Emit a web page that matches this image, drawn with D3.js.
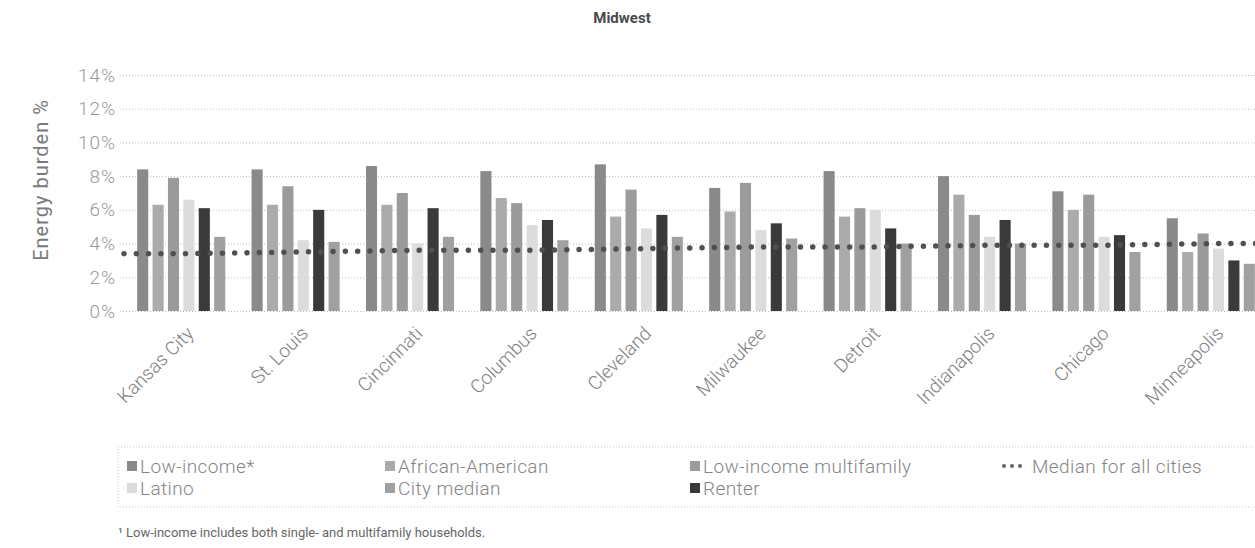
<!DOCTYPE html>
<html>
<head>
<meta charset="utf-8">
<script src="https://cdn.jsdelivr.net/npm/d3@7"></script>
<style>
  html, body { margin: 0; padding: 0; background: #fff; }
  svg { display: block; }
  text { font-family: Roboto, "Liberation Sans", sans-serif; }
</style>
</head>
<body>
<svg id="chart" width="1255" height="548"></svg>
<script>
// ---- data ----
const cities = ["Kansas City", "St. Louis", "Cincinnati", "Columbus", "Cleveland",
                "Milwaukee", "Detroit", "Indianapolis", "Chicago", "Minneapolis"];
const lowIncome        = [8.4, 8.4, 8.6, 8.3, 8.7, 7.3, 8.3, 8.0, 7.1, 5.5];
const africanAmerican  = [6.3, 6.3, 6.3, 6.7, 5.6, 5.9, 5.6, 6.9, 6.0, 3.5];
const lowIncomeMulti   = [7.9, 7.4, 7.0, 6.4, 7.2, 7.6, 6.1, 5.7, 6.9, 4.6];
const latino           = [6.6, 4.2, 4.0, 5.1, 4.9, 4.8, 6.0, 4.4, 4.4, 3.7];
const renter           = [6.1, 6.0, 6.1, 5.4, 5.7, 5.2, 4.9, 5.4, 4.5, 3.0];
const cityMedian       = [4.4, 4.1, 4.4, 4.2, 4.4, 4.3, 4.0, 4.0, 3.5, 2.8];
const medianAllCities  = [3.4, 3.5, 3.6, 3.6, 3.7, 3.8, 3.8, 3.9, 3.9, 4.0];
const yTicks = [0, 2, 4, 6, 8, 10, 12, 14];

const seriesNames = ["Low-income*", "African-American", "Low-income multifamily", "Latino", "Renter", "City median"];
const seriesValues = [lowIncome, africanAmerican, lowIncomeMulti, latino, renter, cityMedian];
const seriesFill = ["#8a8a8a", "#ababab", "#9b9b9b", "#dcdcdc", "#3a3a3a", "#a0a0a0"];

// ---- layout ----
const svg = d3.select("#chart");
const plotLeft = 120, plotRight = 1255;
const y = d3.scaleLinear().domain([0, 14]).range([311, 75]);
const x0 = d3.scaleBand().domain(cities).range([124, 1268]).paddingInner(0.23).paddingOuter(0.115);
const x1 = d3.scaleBand().domain(seriesNames).range([0, x0.bandwidth()]).paddingInner(0.28);

// title
svg.append("text").attr("x", 622).attr("y", 23).attr("text-anchor", "middle")
  .attr("font-size", 15).attr("font-weight", 700).attr("fill", "#4a4a4a").text("Midwest");

// y axis title
svg.append("text").attr("transform", "translate(48,180) rotate(-90)")
  .attr("text-anchor", "middle").attr("font-size", 20).attr("fill", "#7a7a7a")
  .attr("letter-spacing", 1).text("Energy burden %");

// grid + tick labels via axis
const yAxis = d3.axisLeft(y).tickValues(yTicks).tickFormat(d => d + "%")
  .tickSize(-(plotRight - plotLeft)).tickPadding(4);
const gy = svg.append("g").attr("transform", `translate(${plotLeft},0)`).call(yAxis);
gy.select(".domain").remove();
gy.selectAll(".tick line").attr("stroke", "#bdbdbd").attr("stroke-width", 1).attr("stroke-dasharray", "1,2");
gy.selectAll(".tick text").attr("font-size", 19).attr("font-weight", 300).attr("fill", "#9a9a9a")
  .attr("letter-spacing", 1).attr("font-family", "Roboto, sans-serif");

// bars
const gBars = svg.append("g");
cities.forEach((c, ci) => {
  const g = gBars.append("g").attr("transform", `translate(${x0(c)},0)`);
  seriesNames.forEach((s, si) => {
    const v = seriesValues[si][ci];
    g.append("rect").attr("x", x1(s)).attr("y", y(v))
      .attr("width", x1.bandwidth()).attr("height", y(0) - y(v))
      .attr("fill", seriesFill[si]);
  });
});

// median for all cities dotted line
const pts = [[plotLeft, medianAllCities[0]]]
  .concat(cities.map((c, i) => [x0(c) + x0.bandwidth() / 2, medianAllCities[i]]))
  .concat([[plotRight, medianAllCities[medianAllCities.length - 1]]]);
const line = d3.line().x(d => d[0]).y(d => y(d[1]));
svg.append("path").attr("d", line(pts)).attr("fill", "none")
  .attr("stroke", "#505050").attr("stroke-width", 5.5).attr("stroke-linecap", "round")
  .attr("stroke-dasharray", "0,12.3").attr("transform", "translate(4,0)");

// x labels
const xAxis = d3.axisBottom(x0).tickSize(0).tickPadding(0);
const gx = svg.append("g").attr("transform", "translate(0,330)").call(xAxis);
gx.select(".domain").remove();
gx.selectAll(".tick text")
  .attr("font-size", 19).attr("font-weight", 300).attr("fill", "#808080")
  .attr("font-family", "Roboto, sans-serif")
  .attr("text-anchor", "end").attr("dy", "0.35em")
  .attr("transform", "translate(9,0) rotate(-45)");

// legend
const lg = svg.append("g");
lg.append("rect").attr("x", 118).attr("y", 447).attr("width", 1140).attr("height", 60)
  .attr("fill", "none").attr("stroke", "#c8c8c8").attr("stroke-dasharray", "1,2");
const legendItems = [
  {name: "Low-income*", fill: seriesFill[0], col: 0, row: 0},
  {name: "African-American", fill: seriesFill[1], col: 1, row: 0},
  {name: "Low-income multifamily", fill: seriesFill[2], col: 2, row: 0},
  {name: "Latino", fill: seriesFill[3], col: 0, row: 1},
  {name: "City median", fill: seriesFill[5], col: 1, row: 1},
  {name: "Renter", fill: seriesFill[4], col: 2, row: 1}
];
const colX = [127, 385, 690, 1000];
const rowY = [466, 488];
legendItems.forEach(it => {
  const gx0 = colX[it.col], gy0 = rowY[it.row];
  lg.append("rect").attr("x", gx0).attr("y", gy0 - 5).attr("width", 10).attr("height", 10).attr("fill", it.fill);
  lg.append("text").attr("x", gx0 + 13).attr("y", gy0).attr("dy", "0.35em")
    .attr("font-size", 19).attr("font-weight", 300).attr("fill", "#858585")
    .attr("letter-spacing", 0.4).text(it.name);
});
// median legend
[0, 1, 2].forEach(i => lg.append("circle").attr("cx", colX[3] + 4 + i * 8).attr("cy", rowY[0]).attr("r", 2).attr("fill", "#666"));
lg.append("text").attr("x", colX[3] + 32).attr("y", rowY[0]).attr("dy", "0.35em")
  .attr("font-size", 19).attr("font-weight", 300).attr("fill", "#858585")
  .attr("letter-spacing", 0.4).text("Median for all cities");

// footnote
svg.append("text").attr("x", 118).attr("y", 537).attr("font-size", 13).attr("fill", "#666")
  .text("¹ Low-income includes both single- and multifamily households.");
</script>
</body>
</html>
